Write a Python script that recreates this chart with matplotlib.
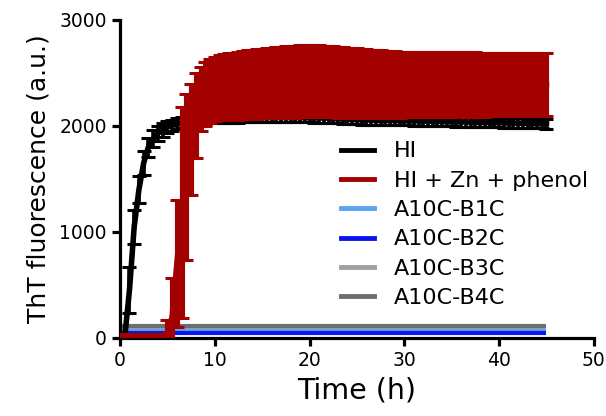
import matplotlib
matplotlib.use("Agg")
import matplotlib.pyplot as plt
import numpy as np

# ---- data ----
time_h = np.arange(0, 45.01, 0.5)

hi_mean = [0, 5, 450, 1050, 1400, 1650, 1800, 1880, 1930, 1965,
           1990, 2005, 2020, 2030, 2040, 2048, 2055, 2060, 2065, 2068,
           2070, 2072, 2074, 2075, 2076, 2077, 2078, 2078, 2079, 2080,
           2080, 2080, 2080, 2081, 2081, 2080, 2080, 2079, 2079, 2078,
           2078, 2077, 2076, 2075, 2073, 2070, 2068, 2066, 2064, 2062,
           2060, 2058, 2056, 2055, 2054, 2053, 2052, 2052, 2051, 2050,
           2050, 2049, 2048, 2047, 2046, 2045, 2044, 2043, 2042, 2041,
           2040, 2039, 2038, 2037, 2036, 2035, 2034, 2033, 2032, 2031,
           2030, 2029, 2028, 2027, 2026, 2025, 2024, 2023, 2022, 2021,
           2020]
hi_err = [0, 10, 220, 160, 130, 110, 90, 80, 70, 65,
          60, 55, 50, 50, 48, 46, 45, 45, 45, 45,
          45, 45, 45, 45, 45, 45, 45, 45, 45, 45,
          45, 45, 45, 45, 45, 45, 45, 45, 45, 45,
          45, 45, 45, 45, 45, 45, 45, 45, 45, 45,
          45, 45, 45, 45, 45, 45, 45, 45, 45, 45,
          45, 45, 45, 45, 45, 45, 45, 45, 45, 45,
          45, 45, 45, 45, 45, 45, 45, 45, 45, 45,
          45, 45, 45, 45, 45, 45, 45, 45, 45, 45,
          45]

zn_mean = [20, 20, 20, 20, 20, 20, 20, 20, 20, 20,
           40, 200, 700, 1185, 1515, 1875, 2100, 2255, 2300, 2330,
           2350, 2360, 2365, 2370, 2375, 2380, 2385, 2390, 2393, 2396,
           2400, 2403, 2406, 2409, 2412, 2414, 2416, 2418, 2420, 2421,
           2422, 2422, 2421, 2420, 2418, 2415, 2412, 2410, 2408, 2405,
           2402, 2400, 2398, 2396, 2395, 2394, 2393, 2392, 2391, 2390,
           2390, 2390, 2390, 2390, 2390, 2390, 2390, 2390, 2390, 2390,
           2390, 2390, 2390, 2390, 2390, 2390, 2390, 2390, 2390, 2390,
           2390, 2390, 2390, 2390, 2390, 2390, 2390, 2390, 2390, 2390,
           2390]
zn_err = [5, 5, 5, 5, 5, 5, 5, 5, 5, 5,
          130, 360, 600, 995, 785, 525, 400, 305, 300, 300,
          305, 308, 311, 314, 317, 320, 322, 324, 326, 328,
          330, 332, 334, 335, 336, 337, 338, 339, 340, 340,
          340, 339, 338, 337, 336, 335, 334, 333, 332, 331,
          330, 328, 326, 324, 322, 320, 318, 316, 314, 312,
          310, 310, 309, 309, 308, 308, 307, 307, 306, 306,
          305, 305, 304, 304, 303, 303, 302, 302, 301, 301,
          300, 300, 300, 300, 300, 300, 300, 300, 300, 300,
          300]

ctrl_time = [0, 5, 10, 15, 20, 25, 30, 35, 40, 45]
b1c = [65, 65, 65, 65, 65, 65, 65, 65, 65, 65]
b2c = [45, 45, 45, 45, 45, 45, 45, 45, 45, 45]
b3c = [100, 100, 100, 100, 100, 100, 100, 100, 100, 100]
b4c = [115, 115, 115, 115, 115, 115, 115, 115, 115, 115]

labels = ["HI", "HI + Zn + phenol", "A10C-B1C", "A10C-B2C", "A10C-B3C", "A10C-B4C"]
colors = ["#000000", "#a30000", "#5aa5f0", "#0a14f0", "#a0a0a0", "#6e6e6e"]

# ---- plot ----
plt.rcParams['font.family'] = ['DejaVu Sans']
fig = plt.figure(figsize=(6.06, 4.16), dpi=100)
ax = fig.add_axes([0.198, 0.188, 0.782, 0.764])

for tv, yv, c in [(ctrl_time, b1c, colors[2]),
                  (ctrl_time, b2c, colors[3]),
                  (ctrl_time, b3c, colors[4]),
                  (ctrl_time, b4c, colors[5])]:
    ax.plot(tv, yv, color=c, lw=3, solid_capstyle='butt', zorder=2)

ax.errorbar(time_h, hi_mean, yerr=hi_err, color=colors[0], lw=4,
            elinewidth=2.6, capsize=5, capthick=2.2, zorder=3)
ax.errorbar(time_h, zn_mean, yerr=zn_err, color=colors[1], lw=4,
            elinewidth=3.7, capsize=5, capthick=2.2, zorder=4)

from matplotlib.lines import Line2D
leg_handles = [Line2D([0], [0], color=c, lw=3.5) for c in colors]
ax.legend(leg_handles, labels, loc='upper left', bbox_to_anchor=(0.562, 0.66),
          bbox_transform=fig.transFigure, frameon=False, fontsize=16,
          handlelength=1.5, handletextpad=0.9, labelspacing=0.42,
          borderpad=0, borderaxespad=0)

ax.set_xlim(0, 50)
ax.set_ylim(0, 3000)
ax.set_xticks([0, 10, 20, 30, 40, 50])
ax.set_yticks([0, 1000, 2000, 3000])
ax.spines['top'].set_visible(False)
ax.spines['right'].set_visible(False)
for s in ['left', 'bottom']:
    ax.spines[s].set_linewidth(2.3)
ax.tick_params(width=2.3, length=6, labelsize=13.5, direction='out')
ax.set_xlabel("Time (h)", fontsize=20.5, labelpad=5)
ax.set_ylabel("ThT fluorescence (a.u.)", fontsize=18, labelpad=6)

fig.savefig("out.png", dpi=100)
